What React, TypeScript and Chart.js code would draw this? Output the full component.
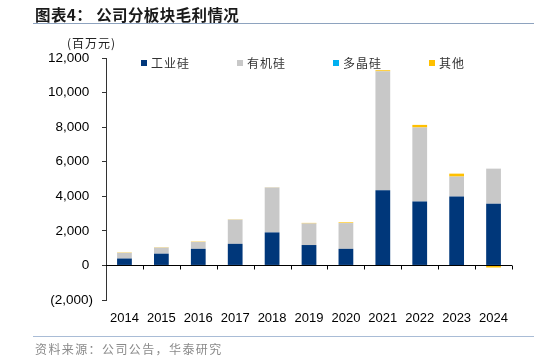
import React, { useEffect, useRef } from "react";
import { Chart, registerables } from "chart.js";

Chart.register(...registerables);

const categories = ["2014", "2015", "2016", "2017", "2018", "2019", "2020", "2021", "2022", "2023", "2024"];
const industrialSilicon = [400, 680, 960, 1250, 1910, 1180, 960, 4350, 3700, 3990, 3570];
const organicSilicon = [330, 350, 400, 1400, 2600, 1250, 1490, 6880, 4280, 1150, 2030];
const polySilicon = [0, 0, 0, 0, 0, 0, 0, 0, 0, 0, 0];
const others = [20, 20, 20, 15, 10, 30, 40, 60, 150, 170, -120];
const seriesNames = ["工业硅", "有机硅", "多晶硅", "其他"];
const seriesColors = ["#00377A", "#C8C8C8", "#00B0F0", "#FFC000"];
const yTicks = [-2000, 0, 2000, 4000, 6000, 8000, 10000, 12000];

const CJK = '"Noto Sans CJK SC", "Noto Sans", sans-serif';
const NUM = '"Liberation Sans", Arial, sans-serif';

const fmt = (v: number) => {
  const s = Math.abs(v).toLocaleString("en-US");
  return v < 0 ? `(${s})` : `${s} `;
};

const zeroLinePlugin = {
  id: "zeroLine",
  afterDatasetsDraw(chart: any) {
    const { ctx, chartArea, scales } = chart;
    const y = Math.round(scales.y.getPixelForValue(0)) + 0.5;
    ctx.save();
    ctx.strokeStyle = "#000";
    ctx.lineWidth = 1;
    ctx.beginPath();
    ctx.moveTo(chartArea.left, y);
    ctx.lineTo(chartArea.right, y);
    const n = categories.length;
    const w = (chartArea.right - chartArea.left) / n;
    for (let i = 1; i <= n; i++) {
      const x = Math.round(chartArea.left + w * i) + 0.5;
      ctx.moveTo(x, y);
      ctx.lineTo(x, y + 4);
    }
    ctx.stroke();
    ctx.restore();
  },
};

function ChartBox() {
  const ref = useRef<HTMLCanvasElement | null>(null);
  useEffect(() => {
    if (!ref.current) return;
    const datasets = [industrialSilicon, organicSilicon, polySilicon, others].map((d, i) => ({
      label: seriesNames[i],
      data: d,
      backgroundColor: seriesColors[i],
      borderWidth: 0,
      barPercentage: 0.4,
      categoryPercentage: 1,
      stack: "s",
    }));
    const chart = new Chart(ref.current, {
      type: "bar",
      data: { labels: categories, datasets },
      plugins: [zeroLinePlugin],
      options: {
        animation: false,
        responsive: false,
        maintainAspectRatio: false,
        layout: { padding: { left: 0, right: 22, top: 58, bottom: 0 } },
        plugins: { legend: { display: false }, tooltip: { enabled: false } },
        scales: {
          x: {
            stacked: true,
            grid: { display: false, drawTicks: false },
            border: { display: false },
            ticks: { color: "#000", font: { family: NUM, size: 13 }, padding: 11, maxRotation: 0, autoSkip: false },
            afterFit: (s: any) => { s.height = 61; },
          },
          y: {
            stacked: true,
            min: -2000,
            max: 12000,
            afterBuildTicks: (s: any) => { s.ticks = yTicks.map((v) => ({ value: v })); },
            grid: { display: true, drawOnChartArea: false, drawTicks: true, tickLength: 4, color: "#333" },
            border: { display: true, color: "#333", width: 1 },
            ticks: { color: "#000", font: { family: NUM, size: 13.5 }, padding: 9, callback: (v: any) => fmt(Number(v)) },
            afterFit: (s: any) => { s.width = 106; },
          },
        },
      },
    });
    return () => chart.destroy();
  }, []);
  return <canvas ref={ref} width={534} height={361} style={{ position: "absolute", left: 0, top: 0, width: 534, height: 361 }} />;
}

export default function App() {
  const legendX = [141, 237, 333, 429];
  return (
    <div style={{ position: "absolute", left: 0, top: 0, width: 534, height: 361, background: "#fff", overflow: "hidden" }}>
      <ChartBox />
      <div style={{ position: "absolute", left: 35, top: 4, fontFamily: CJK, fontWeight: 700, fontSize: 15.5, letterSpacing: 0.4, color: "#1a1a1a", lineHeight: "20px", whiteSpace: "nowrap" }}>
        图表4：&nbsp;公司分板块毛利情况
      </div>
      <div style={{ position: "absolute", left: 33, top: 23, width: 501, height: 1, background: "#8EA3BF" }} />
      <div style={{ position: "absolute", left: 67, top: 34, fontFamily: CJK, fontSize: 12, letterSpacing: 1, color: "#222", lineHeight: "18px", whiteSpace: "nowrap" }}>
        (百万元)
      </div>
      {seriesNames.map((n, i) => (
        <div key={n} style={{ position: "absolute", left: legendX[i], top: 55, height: 16, display: "flex", alignItems: "center", whiteSpace: "nowrap" }}>
          <span style={{ display: "inline-block", width: 6, height: 6, background: seriesColors[i], marginRight: 4 }} />
          <span style={{ fontFamily: CJK, fontSize: 12, letterSpacing: 1, color: "#333", lineHeight: "16px" }}>{n}</span>
        </div>
      ))}
      <div style={{ position: "absolute", left: 33, top: 336, width: 501, height: 1, background: "#A9BCD6" }} />
      <div style={{ position: "absolute", left: 35, top: 340, fontFamily: CJK, fontSize: 12, letterSpacing: 1.4, color: "#8a8a8a", lineHeight: "18px", whiteSpace: "nowrap" }}>
        资料来源：公司公告，华泰研究
      </div>
    </div>
  );
}
